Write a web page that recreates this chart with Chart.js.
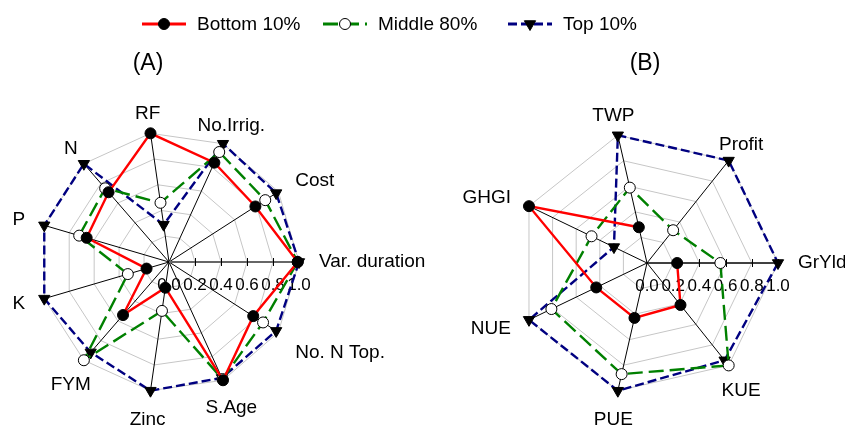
<!DOCTYPE html>
<html lang="en">
<head>
<meta charset="utf-8">
<title>Radar</title>
<script src="https://cdn.jsdelivr.net/npm/chart.js@4.4.1/dist/chart.umd.min.js"></script>
<style>
  html, body { margin: 0; padding: 0; background: #fff; }
  #lienzo { position: relative; width: 845px; height: 429px; }
  #lienzo canvas { position: absolute; left: 0; top: 0; }
</style>
</head>
<body>
<div id="lienzo">
  <canvas id="radarA" width="845" height="429"></canvas>
  <canvas id="radarB" width="845" height="429"></canvas>
</div>
<script>
// Ejes en sentido horario empezando por la derecha
const etiquetasA = ["Var. duration", "No. N Top.", "S.Age", "Zinc", "FYM", "K", "P", "N", "RF", "No.Irrig.", "Cost"];
const bottomA = [0.99, 0.77, 1.0, 0.20, 0.54, 0.18, 0.66, 0.71, 1.0, 0.84, 0.79];
const middleA = [0.99, 0.86, 0.99, 0.38, 1.0, 0.33, 0.72, 0.75, 0.46, 0.93, 0.88];
const topA    = [1.0, 0.98, 0.98, 1.0, 0.92, 1.0, 1.0, 1.0, 0.29, 1.0, 0.98];

const etiquetasB = ["GrYld", "KUE", "PUE", "NUE", "GHGI", "TWP", "Profit"];
const bottomB = [0.23, 0.41, 0.43, 0.43, 1.0, 0.28, null]; // sin valor de Profit
const middleB = [0.56, 1.0, 0.87, 0.81, 0.47, 0.59, 0.32];
const topB    = [1.0, 0.95, 1.0, 1.0, 0.28, 1.0, 1.0];

const ticksEje = [0, 0.2, 0.4, 0.6, 0.8, 1.0]; // marcas del eje de valores
const nombresSeries = ["Bottom 10%", "Middle 80%", "Top 10%"];

const fuente = "'Liberation Sans', Arial, sans-serif";

// Dibuja el eje con sus valores, las etiquetas de cada eje, el título y la leyenda
const rotulosRadar = {
    id: 'rotulosRadar',
    beforeDatasetsDraw(chart, args, opts) {
        const esc = chart.scales.r;
        const ctx = chart.ctx;
        const x0 = esc.xCenter, y0 = esc.yCenter;
        const fin = esc.getPointPositionForValue(0, esc.max);
        ctx.save();
        ctx.strokeStyle = opts.colorEje;
        ctx.lineWidth = opts.anchoEje;
        ctx.beginPath();
        ctx.moveTo(x0, y0);
        ctx.lineTo(fin.x, fin.y);
        ctx.stroke();

        ctx.strokeStyle = '#000';
        ctx.lineWidth = 1;
        ctx.fillStyle = '#000';
        ctx.font = "17px " + fuente;
        ctx.textAlign = 'center';
        ctx.textBaseline = 'middle';
        for (const v of ticksEje) {
            const p = esc.getPointPositionForValue(0, v);
            if (v > 0) {
                ctx.beginPath();
                ctx.moveTo(Math.round(p.x) + 0.5, p.y - 4);
                ctx.lineTo(Math.round(p.x) + 0.5, p.y + 4);
                ctx.stroke();
            }
            ctx.fillText(v.toFixed(1), p.x, p.y + 23);
        }
        ctx.restore();
    },
    afterDraw(chart, args, opts) {
        const esc = chart.scales.r;
        const ctx = chart.ctx;
        ctx.save();
        ctx.fillStyle = '#000';

        // Nombres de los ejes
        ctx.font = "19px " + fuente;
        chart.data.labels.forEach((txt, i) => {
            const ang = esc.getIndexAngle(i) - Math.PI / 2;
            const c = Math.cos(ang), s = Math.sin(ang);
            const p = esc.getPointPosition(i, esc.drawingArea + 20);
            if (Math.abs(c) > 0.8) {
                ctx.textAlign = c > 0 ? 'left' : 'right';
            } else {
                ctx.textAlign = 'center';
            }
            ctx.textBaseline = s > 0.5 ? 'top' : 'middle';
            ctx.fillText(txt, p.x, p.y);
        });

        // Título del panel
        ctx.font = "23px " + fuente;
        ctx.textAlign = 'center';
        ctx.textBaseline = 'middle';
        ctx.fillText(opts.titulo, opts.tituloX, 64);

        // Leyenda común (solo en el primer panel)
        if (opts.leyenda) {
            ctx.font = "19px " + fuente;
            ctx.textAlign = 'left';
            chart.data.datasets.forEach((ds, i) => {
                const x = opts.leyendaX[i], y = 24;
                ctx.strokeStyle = ds.borderColor;
                ctx.lineWidth = ds.borderWidth + 0.5;
                ctx.setLineDash(ds.borderDash || []);
                ctx.beginPath();
                ctx.moveTo(x, y);
                ctx.lineTo(x + 44, y);
                ctx.stroke();
                ctx.setLineDash([]);
                ctx.fillStyle = ds.pointBackgroundColor;
                ctx.strokeStyle = ds.pointBorderColor;
                ctx.lineWidth = ds.pointBorderWidth;
                Chart.helpers.drawPoint(ctx, {
                    pointStyle: ds.pointStyle,
                    rotation: ds.pointRotation || 0,
                    radius: ds.pointRadius,
                    borderWidth: ds.pointBorderWidth
                }, x + 22, y);
                ctx.fillStyle = '#000';
                ctx.fillText(ds.label, x + 55, y + 1);
            });
        }
        ctx.restore();
    }
};

function crearRadar(id, etiquetas, bottom, middle, top, extra) {
    return new Chart(document.getElementById(id), {
        type: 'radar',
        data: {
            labels: etiquetas,
            datasets: [{
                label: nombresSeries[0],
                data: bottom,
                borderColor: '#ff0000',
                borderWidth: 2.4,
                fill: false,
                pointStyle: 'circle',
                pointRadius: 5.5,
                pointBackgroundColor: '#000',
                pointBorderColor: '#000',
                pointBorderWidth: 1
            }, {
                label: nombresSeries[1],
                data: middle,
                borderColor: '#008000',
                borderWidth: 2.4,
                borderDash: [15, 6],
                fill: false,
                pointStyle: 'circle',
                pointRadius: 5.5,
                pointBackgroundColor: '#fff',
                pointBorderColor: '#000',
                pointBorderWidth: 1
            }, {
                label: nombresSeries[2],
                data: top,
                borderColor: '#000080',
                borderWidth: 2.4,
                borderDash: [9, 4],
                fill: false,
                pointStyle: 'triangle',
                pointRotation: 180,
                pointRadius: 6.5,
                pointBackgroundColor: '#000',
                pointBorderColor: '#000',
                pointBorderWidth: 1
            }]
        },
        options: {
            responsive: false,
            animation: false,
            events: [],
            spanGaps: false,
            layout: { padding: extra.padding },
            plugins: {
                legend: { display: false },
                tooltip: { enabled: false },
                rotulosRadar: extra.rotulos
            },
            scales: {
                r: {
                    min: 0,
                    max: 1,
                    startAngle: 90, // primer eje a la derecha
                    ticks: { stepSize: 0.2, display: false },
                    grid: { color: '#c6c6c6', lineWidth: 1 },
                    angleLines: { color: '#000', lineWidth: 1 },
                    pointLabels: { display: false }
                }
            }
        },
        plugins: [rotulosRadar]
    });
}

crearRadar('radarA', etiquetasA, bottomA, middleA, topA, {
    padding: { left: 39, top: 132, right: 546, bottom: 37 },
    rotulos: { titulo: "(A)", tituloX: 148, colorEje: '#666', anchoEje: 2, leyenda: true, leyendaX: [142, 323, 508] }
});

crearRadar('radarB', etiquetasB, bottomB, middleB, topB, {
    padding: { left: 516, top: 132, right: 67, bottom: 35 },
    rotulos: { titulo: "(B)", tituloX: 645, colorEje: '#000', anchoEje: 1, leyenda: false }
});
</script>
</body>
</html>
